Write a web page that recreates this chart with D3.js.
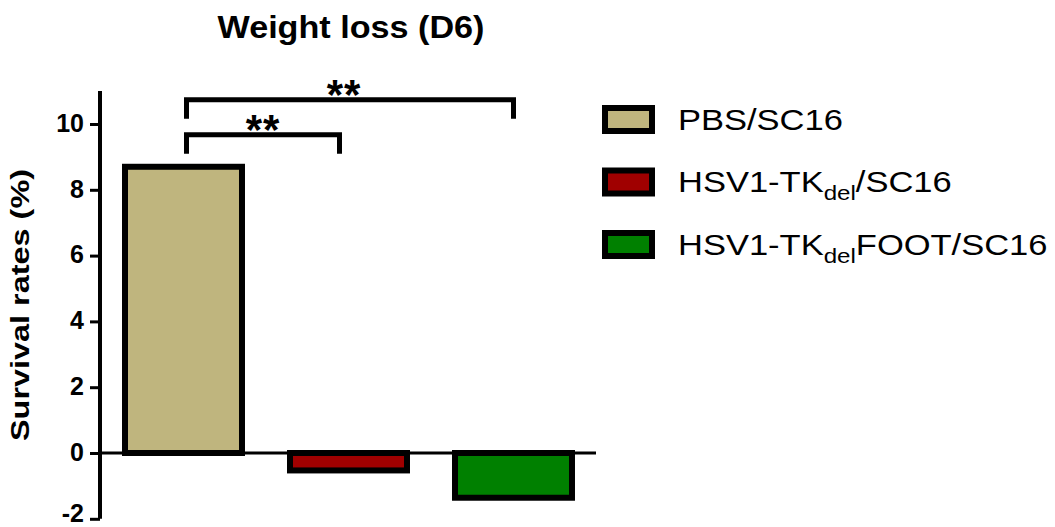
<!DOCTYPE html>
<html>
<head>
<meta charset="utf-8">
<script src="https://cdn.jsdelivr.net/npm/d3@7"></script>
<style>
  html, body { margin: 0; padding: 0; background: #fff; }
  svg { display: block; font-family: Arial, "Liberation Sans", Helvetica, sans-serif; }
</style>
</head>
<body>
<svg id="chart" width="1055" height="527"></svg>
<script>
// Groups, as they appear on the axis and in the legend
const groups = ["PBS/SC16", "HSV1-TKdel/SC16", "HSV1-TKdelFOOT/SC16"];
// Legend label parts: [main text, subscript, trailing text]
const legendParts = [
  ["PBS/SC16", "", ""],
  ["HSV1-TK", "del", "/SC16"],
  ["HSV1-TK", "del", "FOOT/SC16"]
];
// Weight change on day 6 (%)
const values = [8.7, -0.53, -1.36];
const fills = ["#BFB57E", "#A00000", "#008000"];
const yTicks = [-2, 0, 2, 4, 6, 8, 10];
// Significance comparisons between groups
const comparisons = [
  { from: 0, to: 1, label: "**" },
  { from: 0, to: 2, label: "**" }
];

const W = 1055, H = 527;
const svg = d3.select("#chart");

const x = d3.scaleBand()
  .domain(groups)
  .range([101, 596])
  .paddingInner(0.291)
  .paddingOuter(0.1455);

const y = d3.scaleLinear()
  .domain([-2, 11])
  .range([518.8, 91.1]);

// Title
svg.append("text")
  .attr("x", 351)
  .attr("y", 38)
  .attr("text-anchor", "middle")
  .attr("font-size", 32)
  .attr("font-weight", "bold")
  .attr("textLength", 267)
  .attr("lengthAdjust", "spacingAndGlyphs")
  .text("Weight loss (D6)");

// Y axis title
svg.append("text")
  .attr("transform", "translate(29,305) rotate(-90)")
  .attr("text-anchor", "middle")
  .attr("font-size", 26)
  .attr("font-weight", "bold")
  .attr("textLength", 272)
  .attr("lengthAdjust", "spacingAndGlyphs")
  .text("Survival rates (%)");

// Bars
svg.append("g")
  .selectAll("rect")
  .data(groups)
  .join("rect")
  .attr("x", d => x(d))
  .attr("width", x.bandwidth())
  .attr("y", (d, i) => y(Math.max(0, values[i])))
  .attr("height", (d, i) => Math.abs(y(values[i]) - y(0)))
  .attr("fill", (d, i) => fills[i])
  .attr("stroke", "#000")
  .attr("stroke-width", 6);

// Zero baseline
svg.append("line")
  .attr("x1", 100)
  .attr("x2", x.range()[1])
  .attr("y1", y(0))
  .attr("y2", y(0))
  .attr("stroke", "#000")
  .attr("stroke-width", 3);

// Y axis
const yAxis = d3.axisLeft(y)
  .tickValues(yTicks)
  .tickSize(10)
  .tickPadding(6)
  .tickFormat(d => String(d));

const gy = svg.append("g")
  .attr("transform", "translate(100,0)")
  .call(yAxis);

gy.select(".domain")
  .attr("d", `M0,${y(11)}V${y(-2)}`)
  .attr("stroke", "#000")
  .attr("stroke-width", 4);
gy.selectAll(".tick line")
  .attr("stroke", "#000")
  .attr("stroke-width", 3);
const fontSizeTick = 25;
gy.selectAll(".tick text")
  .attr("font-family", "Arial, 'Liberation Sans', sans-serif")
  .attr("font-size", fontSizeTick)
  .attr("font-weight", "bold")
  .attr("fill", "#000")
  // keep the lowest label (with its descent) inside the canvas
  .attr("dy", d => {
    const base = 0.29 * fontSizeTick;
    const maxBase = H - 0.22 * fontSizeTick - y(d);
    return Math.min(base, maxBase);
  });

// Significance brackets
const center = i => x(groups[i]) + x.bandwidth() / 2;
const bracketTop = [y(values[0]) - 32, y(values[0]) - 67];
const rightInset = [9, 0];
const drop = 19;

const br = svg.append("g");
comparisons.forEach((c, k) => {
  const x1 = center(c.from) + 3;
  const x2 = center(c.to) - rightInset[k];
  const yt = bracketTop[k];
  br.append("path")
    .attr("d", `M${x1},${yt + drop}V${yt}H${x2}V${yt + drop}`)
    .attr("fill", "none")
    .attr("stroke", "#000")
    .attr("stroke-width", 5);
  br.append("text")
    .attr("x", (x1 + x2) / 2 - (k === 1 ? 6 : 0))
    .attr("y", yt + 9.5)
    .attr("text-anchor", "middle")
    .attr("font-size", 42)
    .attr("font-weight", "bold")
    .attr("letter-spacing", 1)
    .text(c.label);
});

// Legend
const legend = svg.append("g");
legendParts.forEach((parts, i) => {
  const cy = 119.5 + i * 62.5;
  legend.append("rect")
    .attr("x", 605)
    .attr("y", cy - 11.5)
    .attr("width", 47)
    .attr("height", 23)
    .attr("fill", fills[i])
    .attr("stroke", "#000")
    .attr("stroke-width", 6);
  const t = legend.append("text")
    .attr("transform", `translate(678,${cy + 10}) scale(1.15,1)`)
    .attr("font-size", 30)
    .attr("fill", "#000");
  t.append("tspan").text(parts[0]);
  if (parts[1]) {
    t.append("tspan").attr("font-size", 21).attr("dy", 8).text(parts[1]);
    t.append("tspan").attr("dy", -8).text(parts[2]);
  }
});
</script>
</body>
</html>
